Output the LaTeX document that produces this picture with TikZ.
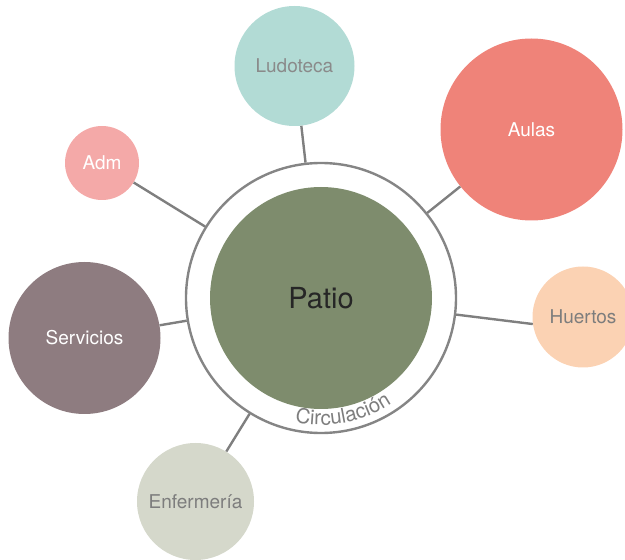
\documentclass[tikz,border=0pt]{standalone}
\usepackage{fontspec}
\setmainfont{TeX Gyre Heros}
\usetikzlibrary{decorations.text}
\definecolor{ringgray}{HTML}{858585}
\definecolor{conngray}{HTML}{7F7F7F}
\definecolor{cpatio}{HTML}{7E8C6D}
\definecolor{clud}{HTML}{B2DBD5}
\definecolor{caulas}{HTML}{EF8379}
\definecolor{cadm}{HTML}{F4A9A8}
\definecolor{cserv}{HTML}{8E7C80}
\definecolor{chuert}{HTML}{FBD2B3}
\definecolor{cenf}{HTML}{D5D8CB}
\definecolor{tgray}{HTML}{7D7D7D}
\definecolor{tlud}{HTML}{8A8A8A}
\tikzset{
  x=1pt, y=1pt,
  bubble/.style={circle, inner sep=0pt, draw=none, font=\fontsize{19}{19}\selectfont},
  conn/.style={draw=conngray, line width=2.4pt},
}
\begin{document}
\begin{tikzpicture}
\useasboundingbox (0,0) rectangle (625,560);
% central ring and patio
\node[circle, inner sep=0pt, minimum size=270pt, draw=ringgray, line width=2.4pt] (ring) at (321,262) {};
\node[circle, inner sep=0pt, minimum size=222pt, fill=cpatio, font=\fontsize{29}{29}\selectfont, text=black!85] (patio) at (321,262) {Patio};
% satellites
\node[bubble, minimum size=120pt, fill=clud, text=tlud] (lud) at (294.5,494) {Ludoteca};
\node[bubble, minimum size=182pt, fill=caulas, text=white] (aulas) at (531.5,430.5) {Aulas};
\node[bubble, minimum size=74pt, fill=cadm, text=white] (adm) at (102,397) {Adm};
\node[bubble, minimum size=152pt, fill=cserv, text=white] (serv) at (84.5,222) {Servicios};
\node[bubble, minimum size=101pt, fill=chuert, text=tgray] (huert) at (583,243) {Huertos};
\node[bubble, minimum size=117pt, fill=cenf, text=tgray] (enf) at (195.5,58.5) {Enfermería};
% connectors
\draw[conn] (ring) -- (lud);
\draw[conn] (ring) -- (aulas);
\draw[conn] (ring) -- (adm);
\draw[conn] (ring) -- (serv);
\draw[conn] (ring.-7.5) -- (huert.188);
\draw[conn] (ring) -- (enf);
% label along the ring
\path[decorate, decoration={text along path, text align=center,
  text={|\fontsize{20.5}{20.5}\selectfont\color{tgray}|Circulación}}]
  (ring.center) ++(-108:127) arc[start angle=-108, end angle=-50, radius=127];
\end{tikzpicture}
\end{document}
